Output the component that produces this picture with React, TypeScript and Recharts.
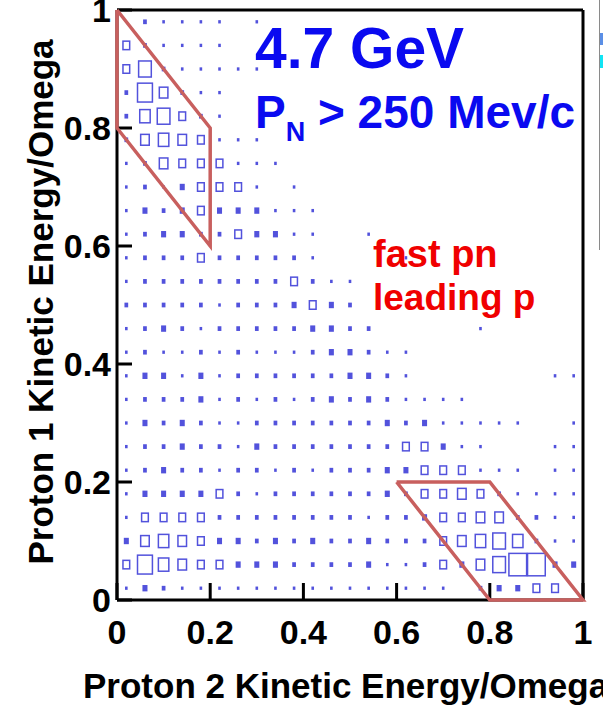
import { ScatterChart, Scatter, XAxis, YAxis, ReferenceLine } from "recharts";

// bin centres (0.04 wide bins) used for both axes
const binCenters = [
  0.02, 0.06, 0.1, 0.14, 0.18, 0.22, 0.26, 0.3, 0.34, 0.38, 0.42, 0.46, 0.5,
  0.54, 0.58, 0.62, 0.66, 0.7, 0.74, 0.78, 0.82, 0.86, 0.9, 0.94, 0.98,
];

// relative bin content (% of max), one array per proton-1 row
const row98 = [0, 20, 14, 14, 14, 14, 0, 14, 0, 0, 0, 0, 0, 0, 0, 0, 0, 0, 0, 0, 0, 0, 0, 0, 0];
const row94 = [36, 20, 14, 14, 14, 14, 0, 0, 0, 0, 0, 0, 0, 0, 0, 0, 0, 0, 0, 0, 0, 0, 0, 0, 0];
const row90 = [36, 68, 20, 14, 14, 14, 14, 14, 0, 0, 0, 0, 0, 0, 0, 0, 0, 0, 0, 0, 0, 0, 0, 0, 0];
const row86 = [20, 80, 46, 20, 14, 14, 0, 0, 0, 0, 0, 0, 0, 0, 0, 0, 0, 0, 0, 0, 0, 0, 0, 0, 0];
const row82 = [20, 56, 68, 36, 20, 14, 0, 0, 0, 0, 0, 0, 0, 0, 0, 0, 0, 0, 0, 0, 0, 0, 0, 0, 0];
const row78 = [20, 46, 56, 46, 36, 14, 14, 14, 0, 0, 0, 0, 0, 0, 0, 0, 0, 0, 0, 0, 0, 0, 0, 0, 0];
const row74 = [14, 20, 46, 36, 36, 36, 14, 14, 14, 0, 0, 0, 0, 0, 0, 0, 0, 0, 0, 0, 0, 0, 0, 0, 0];
const row70 = [14, 20, 14, 27, 36, 36, 36, 14, 0, 14, 0, 0, 0, 0, 0, 0, 0, 0, 0, 0, 0, 0, 0, 0, 0];
const row66 = [14, 27, 20, 27, 36, 27, 27, 27, 14, 14, 14, 0, 0, 0, 0, 0, 0, 0, 0, 0, 0, 0, 0, 0, 0];
const row62 = [14, 20, 27, 27, 20, 20, 36, 27, 27, 14, 14, 0, 0, 14, 0, 0, 0, 0, 0, 0, 0, 0, 0, 0, 0];
const row58 = [14, 20, 20, 20, 36, 20, 20, 20, 20, 20, 14, 0, 0, 0, 0, 14, 0, 0, 0, 0, 0, 0, 0, 0, 0];
const row54 = [14, 20, 20, 20, 20, 20, 20, 20, 20, 36, 20, 14, 14, 0, 0, 0, 0, 0, 0, 0, 0, 0, 0, 0, 0];
const row50 = [20, 20, 20, 20, 20, 14, 20, 20, 20, 27, 36, 27, 20, 0, 0, 0, 0, 0, 0, 0, 0, 0, 0, 0, 0];
const row46 = [14, 20, 27, 20, 14, 20, 20, 20, 20, 20, 27, 27, 20, 20, 0, 0, 0, 0, 0, 14, 0, 0, 0, 0, 0];
const row42 = [14, 20, 14, 14, 20, 14, 20, 14, 14, 14, 20, 27, 27, 20, 14, 14, 0, 0, 0, 0, 0, 0, 0, 0, 0];
const row38 = [14, 27, 27, 14, 27, 14, 20, 20, 20, 20, 20, 20, 27, 27, 20, 14, 0, 0, 0, 0, 0, 0, 0, 14, 14];
const row34 = [14, 20, 20, 20, 27, 14, 20, 14, 20, 14, 20, 27, 20, 27, 20, 14, 14, 14, 14, 0, 0, 0, 0, 0, 0];
const row30 = [14, 27, 20, 27, 20, 14, 14, 20, 20, 20, 20, 20, 20, 20, 27, 20, 27, 14, 14, 14, 14, 14, 0, 0, 14];
const row26 = [14, 20, 20, 27, 20, 20, 14, 27, 20, 20, 20, 20, 20, 20, 20, 36, 36, 27, 14, 14, 0, 0, 0, 14, 14];
const row22 = [14, 20, 27, 20, 20, 14, 20, 20, 14, 20, 14, 20, 20, 20, 27, 27, 36, 36, 36, 14, 14, 14, 0, 14, 14];
const row18 = [14, 27, 27, 27, 27, 36, 20, 14, 20, 20, 20, 20, 20, 20, 27, 20, 36, 36, 46, 36, 20, 14, 14, 14, 14];
const row14 = [14, 36, 36, 36, 36, 20, 20, 20, 20, 20, 20, 20, 20, 14, 20, 20, 27, 36, 36, 46, 46, 20, 20, 14, 14];
const row10 = [27, 46, 56, 46, 36, 27, 27, 20, 27, 20, 27, 20, 20, 27, 20, 20, 20, 36, 46, 56, 68, 56, 20, 14, 14];
const row06 = [36, 80, 56, 46, 36, 36, 27, 27, 27, 20, 20, 20, 20, 27, 14, 14, 20, 36, 27, 46, 68, 95, 95, 27, 27];
const row02 = [14, 27, 20, 14, 14, 14, 14, 14, 14, 14, 14, 14, 14, 14, 14, 14, 14, 14, 0, 20, 27, 27, 36, 36, 0];

// bottom row first, so index matches binCenters
const rows = [
  row02, row06, row10, row14, row18, row22, row26, row30, row34, row38, row42, row46, row50,
  row54, row58, row62, row66, row70, row74, row78, row82, row86, row90, row94, row98,
];

const axisTicks = [0, 0.2, 0.4, 0.6, 0.8, 1];
const tickLabels = ["0", "0.2", "0.4", "0.6", "0.8", "1"];

// selection cuts drawn in red
const fastPnCut = [
  { x: 0, y: 1 },
  { x: 0.2, y: 0.8 },
  { x: 0.2, y: 0.6 },
  { x: 0, y: 0.8 },
  { x: 0, y: 1 },
];
const leadingPCut = [
  { x: 0.6, y: 0.2 },
  { x: 0.8, y: 0.2 },
  { x: 1, y: 0 },
  { x: 0.8, y: 0 },
  { x: 0.6, y: 0.2 },
];

const W = 603;
const H = 725;
const PLOT_LEFT = 117;
const PLOT_RIGHT = 583;
const PLOT_TOP = 10;
const PLOT_BOTTOM = 600;
const BIN = 0.04;
const BIN_W = BIN * (PLOT_RIGHT - PLOT_LEFT);
const BIN_H = BIN * (PLOT_BOTTOM - PLOT_TOP);

const BOX_COLOR = "#5252dc";
const CUT_COLOR = "#c85f5e";
const FONT = '"Liberation Sans", Arial, Helvetica, sans-serif';

const cells = rows.flatMap((row, r) =>
  row
    .map((v, c) => ({ x: binCenters[c], y: binCenters[r], v }))
    .filter((d) => d.v > 0)
);

function BoxShape(props: any) {
  const { cx, cy, payload } = props;
  const f = payload.v / 100;
  const w = f * BIN_W;
  const h = f * BIN_H;
  if (f < 0.3) {
    return <rect x={cx - w / 2} y={cy - h / 2} width={w} height={h} fill={BOX_COLOR} />;
  }
  return (
    <rect
      x={cx - w / 2}
      y={cy - h / 2}
      width={w}
      height={h}
      fill="none"
      stroke={BOX_COLOR}
      strokeWidth={1.5}
    />
  );
}

const XTick = (props: any) => {
  const i = axisTicks.indexOf(props.payload.value);
  return (
    <text x={props.x} y={PLOT_BOTTOM + 44} textAnchor="middle" fontSize={34} fontWeight="bold" fontFamily={FONT} fill="#000">
      {tickLabels[i]}
    </text>
  );
};

const YTick = (props: any) => {
  const i = axisTicks.indexOf(props.payload.value);
  return (
    <text x={PLOT_LEFT - 6} y={props.y + 12} textAnchor="end" fontSize={34} fontWeight="bold" fontFamily={FONT} fill="#000">
      {tickLabels[i]}
    </text>
  );
};

const noMarker = () => <g />;

export default function App() {
  return (
    <div style={{ position: "relative", width: W, height: H, background: "#fff" }}>
      <style>{"body{margin:0}"}</style>
      <ScatterChart
        width={W}
        height={H}
        margin={{ top: PLOT_TOP, right: W - PLOT_RIGHT, bottom: 0, left: 0 }}
      >
        <XAxis
          type="number"
          dataKey="x"
          domain={[0, 1]}
          ticks={axisTicks}
          height={H - PLOT_BOTTOM}
          tickSize={-17}
          axisLine={{ stroke: "#000", strokeWidth: 3 }}
          tickLine={{ stroke: "#000", strokeWidth: 3 }}
          tick={<XTick />}
          interval={0}
        />
        <YAxis
          type="number"
          dataKey="y"
          domain={[0, 1]}
          ticks={axisTicks}
          width={PLOT_LEFT}
          tickSize={-15}
          axisLine={{ stroke: "#000", strokeWidth: 3 }}
          tickLine={{ stroke: "#000", strokeWidth: 3 }}
          tick={<YTick />}
          interval={0}
        />
        <ReferenceLine y={1} stroke="#000" strokeWidth={3} />
        <ReferenceLine x={1} stroke="#000" strokeWidth={3} />
        <Scatter data={cells} shape={<BoxShape />} isAnimationActive={false} />
        <Scatter
          data={fastPnCut}
          line={{ stroke: CUT_COLOR, strokeWidth: 3.5, strokeLinejoin: "miter" }}
          shape={noMarker}
          isAnimationActive={false}
        />
        <Scatter
          data={leadingPCut}
          line={{ stroke: CUT_COLOR, strokeWidth: 3.5, strokeLinejoin: "miter" }}
          shape={noMarker}
          isAnimationActive={false}
        />
      </ScatterChart>

      {/* annotations and axis titles */}
      <svg
        width={W}
        height={H}
        style={{ position: "absolute", left: 0, top: 0, pointerEvents: "none" }}
        fontFamily={FONT}
        fontWeight="bold"
      >
        <text x={255} y={68} fontSize={57} fill="#0a0af0">4.7 GeV</text>
        <text x={255} y={128} fontSize={46} fill="#0a0af0">
          P
          <tspan dy={13} fontSize={27}>N</tspan>
          <tspan dy={-13} fontSize={46}> &gt; 250 Mev/c</tspan>
        </text>
        <text x={373} y={267} fontSize={38} fill="#f00000">fast pn</text>
        <text x={373} y={310} fontSize={37} fill="#f00000">leading p</text>
        <text x={83} y={698} fontSize={35} fill="#000">Proton 2 Kinetic Energy/Omega</text>
        <text transform="translate(53,302) rotate(-90)" textAnchor="middle" fontSize={35} fill="#000">
          Proton 1 Kinetic Energy/Omega
        </text>
        <line x1={599.5} y1={0} x2={599.5} y2={250} stroke="#8a8a8a" strokeWidth={1} />
        <rect x={600} y={33} width={3} height={12} fill="#5b8fe6" />
        <rect x={600} y={55} width={3} height={13} fill="#10e4f4" />
      </svg>
    </div>
  );
}
